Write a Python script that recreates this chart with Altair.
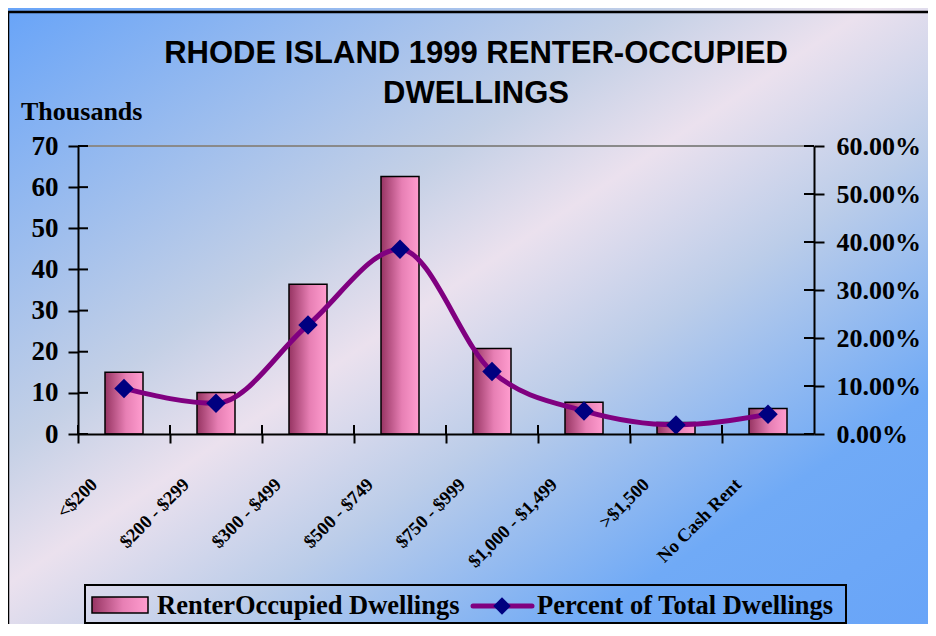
import altair as alt
import pandas as pd

# ---------------- data ----------------
categories = ["<$200", "$200 - $299", "$300 - $499", "$500 - $749",
              "$750 - $999", "$1,000 - $1,499", ">$1,500", "No Cash Rent"]
dwellings_thousands = [15.0, 10.1, 36.4, 62.6, 20.8, 7.7, 2.8, 6.2]
percent_of_total = [0.095, 0.064, 0.227, 0.385, 0.130, 0.048, 0.019, 0.041]
left_ticks = [0, 10, 20, 30, 40, 50, 60, 70]
right_ticks = [0.0, 0.1, 0.2, 0.3, 0.4, 0.5, 0.6]
title_lines = ["RHODE ISLAND 1999 RENTER-OCCUPIED", "DWELLINGS"]
left_axis_title = "Thousands"
legend_labels = ["RenterOccupied Dwellings", "Percent of Total Dwellings"]

df = pd.DataFrame({"cat": categories, "dw": dwellings_thousands, "pct": percent_of_total})
left_df = pd.DataFrame({"dw": left_ticks})
right_df = pd.DataFrame({"pct": right_ticks})
cat_df = pd.DataFrame({"cat": categories})
one = pd.DataFrame({"k": [0]})

W, H = 736, 288
SERIF = "Liberation Serif"
SANS = "Liberation Sans"

bg_grad = alt.LinearGradient(
    gradient="linear", x1=0, y1=0, x2=1, y2=1,
    stops=[alt.GradientStop(offset=0.0, color="#68a4f8"),
           alt.GradientStop(offset=0.35, color="#c4d0e6"),
           alt.GradientStop(offset=0.46, color="#ebe1ee"),
           alt.GradientStop(offset=0.6, color="#bccde9"),
           alt.GradientStop(offset=0.8, color="#70aaf6"),
           alt.GradientStop(offset=1.0, color="#68a4f8")])
bar_grad = alt.LinearGradient(
    gradient="linear", x1=0, y1=0, x2=1, y2=0,
    stops=[alt.GradientStop(offset=0.0, color="#963462"),
           alt.GradientStop(offset=0.55, color="#e77fb4"),
           alt.GradientStop(offset=1.0, color="#ff9dcf")])

x_axis = alt.Axis(bandPosition=0, title=None, grid=False, zindex=2,
                  domainColor="black", domainWidth=2,
                  tickColor="black", tickWidth=2, tickSize=9,
                  labelAngle=-45, labelAlign="right", labelBaseline="middle",
                  labelOffset=-30, labelPadding=38,
                  labelFont=SERIF, labelFontWeight="bold", labelFontSize=18.5,
                  labelColor="black")
left_axis = alt.Axis(values=left_ticks, title=None, grid=False, zindex=2,
                     domainColor="black", domainWidth=2,
                     tickColor="black", tickWidth=2, tickSize=10,
                     labelFont=SERIF, labelFontWeight="bold", labelFontSize=27,
                     labelColor="black", labelPadding=10)
right_axis = alt.Axis(orient="right", values=right_ticks, format=".2%", title=None,
                      grid=False, zindex=2, domainColor="black", domainWidth=2,
                      tickColor="black", tickWidth=2, tickSize=10,
                      labelFont=SERIF, labelFontWeight="bold", labelFontSize=26,
                      labelColor="black", labelPadding=12)

xs = alt.Scale(paddingInner=0, paddingOuter=0)
left_scale = alt.Scale(domain=[0, 70], nice=False, zero=True)
right_scale = alt.Scale(domain=[0, 0.6], nice=False, zero=True)


def xenc(**kw):
    return alt.X("cat:N", sort=categories, scale=xs, axis=x_axis, **kw)


# background & frame
background = alt.Chart(one).mark_rect(fill=bg_grad).encode(
    x=alt.value(-70), x2=alt.value(W + 130), y=alt.value(-138), y2=alt.value(H + 200))
frame = alt.Chart(one).mark_rect(fill="transparent", stroke="black", strokeWidth=2.5).encode(
    x=alt.value(-70), x2=alt.value(W + 160), y=alt.value(-134), y2=alt.value(H + 230))
top_line = alt.Chart(one).mark_rule(color="#8a8a8a", strokeWidth=2).encode(
    x=alt.value(0), x2=alt.value(W), y=alt.value(0))

title1 = alt.Chart(one).mark_text(text=title_lines[0], font=SANS, fontWeight="bold",
                                  fontSize=31, align="center", baseline="alphabetic",
                                  color="black").encode(x=alt.value(398), y=alt.value(-83))
title2 = alt.Chart(one).mark_text(text=title_lines[1], font=SANS, fontWeight="bold",
                                  fontSize=31, align="center", baseline="alphabetic",
                                  color="black").encode(x=alt.value(398), y=alt.value(-43.5))
ytitle = alt.Chart(one).mark_text(text=left_axis_title, font=SERIF, fontWeight="bold",
                                  fontSize=26, align="left", baseline="alphabetic",
                                  color="black").encode(x=alt.value(-57), y=alt.value(-26))

# legend (drawn)
leg_box = alt.Chart(one).mark_rect(fill="transparent", stroke="black", strokeWidth=2).encode(
    x=alt.value(7), x2=alt.value(768), y=alt.value(439), y2=alt.value(477))
leg_sw = alt.Chart(one).mark_rect(fill=bar_grad, stroke="black", strokeWidth=1.5).encode(
    x=alt.value(14), x2=alt.value(70), y=alt.value(451), y2=alt.value(467))
leg_t1 = alt.Chart(one).mark_text(text=legend_labels[0], font=SERIF, fontWeight="bold",
                                  fontSize=26.5, align="left", baseline="middle",
                                  color="black").encode(x=alt.value(79), y=alt.value(460))
leg_line = alt.Chart(one).mark_rule(color="#800080", strokeWidth=5, strokeCap="round").encode(
    x=alt.value(395), x2=alt.value(454), y=alt.value(460))
leg_pt = alt.Chart(one).mark_point(shape="diamond", size=300, filled=True, color="#000080",
                                   opacity=1).encode(x=alt.value(424), y=alt.value(460))
leg_t2 = alt.Chart(one).mark_text(text=legend_labels[1], font=SERIF, fontWeight="bold",
                                  fontSize=26.5, align="left", baseline="middle",
                                  color="black").encode(x=alt.value(459), y=alt.value(460))

# bars on left axis
bars = alt.Chart(df).mark_bar(size=38, fill=bar_grad, stroke="black", strokeWidth=1.5).encode(
    x=xenc(), y=alt.Y("dw:Q", scale=left_scale, axis=left_axis))
left_in = alt.Chart(left_df).mark_rule(color="black", strokeWidth=2).encode(
    y=alt.Y("dw:Q", scale=left_scale, axis=None), x=alt.value(0), x2=alt.value(10))
x_in = alt.Chart(cat_df).mark_rule(color="black", strokeWidth=2).encode(
    x=xenc(bandPosition=0), y=alt.value(H - 9), y2=alt.value(H))

# percent line on right axis
line = alt.Chart(df).mark_line(color="#800080", strokeWidth=5, interpolate="monotone").encode(
    x=xenc(), y=alt.Y("pct:Q", scale=right_scale, axis=right_axis))
pts = alt.Chart(df).mark_point(shape="diamond", size=380, filled=True, color="#000080",
                               opacity=1).encode(
    x=xenc(), y=alt.Y("pct:Q", scale=right_scale, axis=None))
right_in = alt.Chart(right_df).mark_rule(color="black", strokeWidth=2).encode(
    y=alt.Y("pct:Q", scale=right_scale, axis=None), x=alt.value(W - 10), x2=alt.value(W))

chart = alt.layer(background, frame, top_line, title1, title2, ytitle,
                  leg_box, leg_sw, leg_t1, leg_line, leg_pt, leg_t2,
                  bars, left_in, x_in, line, pts, right_in
                  ).resolve_scale(y="independent").properties(
    width=W, height=H,
    padding={"left": 70, "top": 138, "right": 114, "bottom": 190},
    autosize=alt.AutoSizeParams(type="none"),
).configure(background="#68a4f8").configure_view(stroke=None)

chart.save("out.html", embed_options={"renderer": "svg", "actions": False})
